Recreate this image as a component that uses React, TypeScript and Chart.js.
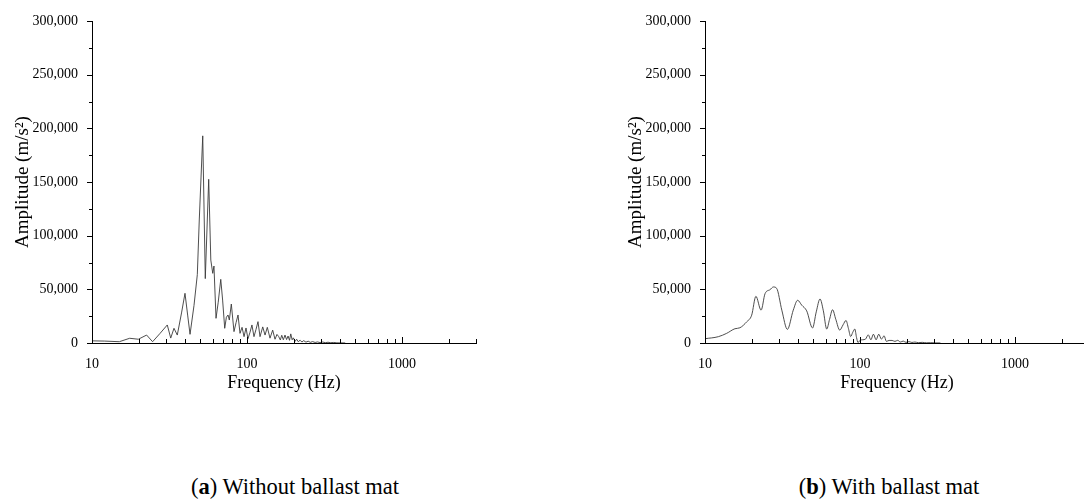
import React, { useEffect, useRef } from "react";
import { Chart, registerables } from "chart.js";

Chart.register(...registerables);

const SERIF = '"Liberation Serif", "Times New Roman", serif';

// Acceleration spectrum, track without ballast mat
const freqA = [
  10, 12, 15, 17.5, 19.9, 22.5, 24.6, 27.5, 30.6, 32.2, 33.8, 35.5, 37.8, 39.8, 41.4,
  42.9, 45.5, 47.8, 49.2, 51.8, 53.8, 56.6, 58.4, 60.1, 61.2, 63.1, 65.2, 67.7, 69.6, 71.8,
  73.6, 75.4, 76.9, 79.2, 82.4, 85, 87.5, 90.1, 92.9, 95.7, 98.5, 101.4, 104.3, 107.6, 110.9,
  114.2, 117.7, 121.3, 126.3, 130.7, 135.2, 140.7, 146.4, 151.6, 156, 160.2, 164, 167.5, 171.5, 175.8,
  180, 184, 188, 191.5, 195.5, 199, 204, 209, 214, 220, 226, 232, 240, 248, 256,
  265, 275, 285, 296, 308, 320, 333, 347, 362, 380, 400, 430,
];
const ampA = [
  2000, 1800, 1200, 4400, 3500, 7400, 1200, 9000, 16800, 4600, 13700, 7400, 28000, 46300, 26000,
  8100, 35000, 63700, 114600, 193000, 60000, 152500, 77300, 64900, 71700, 23000, 38000, 59300, 40000, 13700,
  24000, 26100, 21400, 36300, 10600, 19000, 26100, 9000, 14600, 5900, 14000, 4000, 9500, 16800, 5900,
  12500, 19900, 5900, 15000, 7400, 14600, 4500, 12000, 3500, 8000, 5900, 2800, 7200, 3000, 7400,
  3200, 6500, 2500, 8500, 3000, 4800, 1500, 3500, 1200, 2600, 900, 2200, 800, 1700, 600,
  1300, 500, 1000, 400, 900, 300, 700, 250, 500, 150, 100, 50,
];

// Acceleration spectrum, track with ballast mat
const freqB = [
  10, 12.2, 13.8, 15.6, 16.8, 18.6, 20, 21.3, 23, 24.4, 26.3, 27.6, 29, 31.3, 34,
  37.1, 39.6, 42.1, 45.3, 49.4, 52.2, 55.2, 58, 61, 63.6, 66.5, 69.8, 74, 77.8, 81.2,
  84.2, 87, 89.8, 92.5, 95, 97, 100, 104, 108.5, 113, 117.5, 122, 127, 132, 137.5,
  143, 148, 154, 161, 168, 175, 182, 190, 198, 207, 216, 226, 238, 252, 268,
  285, 305, 330,
];
const ampB = [
  4000, 5900, 9000, 13300, 14200, 19800, 25900, 43500, 30600, 46000, 49700, 52200, 50900, 30600, 12700,
  30600, 39800, 35200, 29900, 14000, 29000, 41000, 30000, 13000, 22000, 31000, 22000, 12000, 17000, 21000,
  13500, 6000, 10000, 13000, 5000, 500, 2500, 3000, 3600, 7600, 3000, 8200, 3000, 8200, 3600,
  6700, 1500, 2400, 2400, 1500, 2500, 900, 1800, 600, 1300, 500, 900, 300, 600, 200,
  300, 100, 50,
];

// Axis ticks
const xTickValues = [
  10, 20, 30, 40, 50, 60, 70, 80, 90,
  100, 200, 300, 400, 500, 600, 700, 800, 900,
  1000, 2000, 3000,
];
const xLabeledTicks = [10, 100, 1000];
const yTickValues = [
  0, 25000, 50000, 75000, 100000, 125000, 150000, 175000, 200000, 225000, 250000, 275000, 300000,
];
const yLabelStep = 50000;

const X_MIN = 10;
const X_MAX = 3000;
const Y_MIN = 0;
const Y_MAX = 300000;

const formatThousands = (v: number) =>
  String(Math.round(v)).replace(/\B(?=(\d{3})+(?!\d))/g, ",");

// Short tick marks: inward on the frequency axis, outward on the amplitude axis
const tickMarks = {
  id: "tickMarks",
  afterDatasetsDraw(chart: any) {
    const { ctx } = chart;
    const xs = chart.scales.x;
    const ys = chart.scales.y;
    ctx.save();
    ctx.strokeStyle = "#000";
    ctx.lineWidth = 1;
    ctx.beginPath();
    for (const v of xTickValues) {
      const px = Math.round(xs.getPixelForValue(v)) + 0.5;
      const len = xLabeledTicks.includes(v) ? 6 : 4;
      ctx.moveTo(px, xs.top);
      ctx.lineTo(px, xs.top - len);
    }
    for (const v of yTickValues) {
      const py = Math.round(ys.getPixelForValue(v)) + 0.5;
      const len = v % yLabelStep === 0 ? 5 : 3;
      ctx.moveTo(ys.right, py);
      ctx.lineTo(ys.right - len, py);
    }
    ctx.stroke();
    ctx.restore();
  },
};

function makeConfig(freq: number[], amp: number[], smooth: boolean): any {
  return {
    type: "line",
    data: {
      datasets: [
        {
          data: freq.map((f, i) => ({ x: f, y: amp[i] })),
          borderColor: "#3a3a3a",
          borderWidth: 0.9,
          pointRadius: 0,
          fill: false,
          tension: smooth ? 0.4 : 0,
          cubicInterpolationMode: smooth ? "monotone" : "default",
        },
      ],
    },
    options: {
      responsive: false,
      animation: false,
      events: [],
      layout: { padding: { left: 0, right: 64, top: 21, bottom: 0 } },
      plugins: { legend: { display: false }, tooltip: { enabled: false } },
      scales: {
        x: {
          type: "logarithmic",
          min: X_MIN,
          max: X_MAX,
          afterBuildTicks: (s: any) => {
            s.ticks = xTickValues.map((v) => ({ value: v }));
          },
          afterFit: (s: any) => {
            s.height = 51;
          },
          grid: { display: false },
          border: { display: true, color: "#000", width: 1 },
          ticks: {
            autoSkip: false,
            maxRotation: 0,
            padding: 5,
            color: "#000",
            font: { family: SERIF, size: 14 },
            callback: (v: any) => (xLabeledTicks.includes(Number(v)) ? String(v) : ""),
          },
          title: {
            display: true,
            text: "Frequency (Hz)",
            color: "#000",
            font: { family: SERIF, size: 18 },
            padding: { top: 0, bottom: 0 },
          },
        },
        y: {
          type: "linear",
          min: Y_MIN,
          max: Y_MAX,
          afterBuildTicks: (s: any) => {
            s.ticks = yTickValues.map((v) => ({ value: v }));
          },
          afterFit: (s: any) => {
            s.width = 92;
          },
          grid: { display: false },
          border: { display: true, color: "#000", width: 1 },
          ticks: {
            autoSkip: false,
            padding: 6,
            color: "#000",
            font: { family: SERIF, size: 14 },
            callback: (v: any) => (Number(v) % yLabelStep === 0 ? formatThousands(Number(v)) : ""),
          },
          title: {
            display: true,
            text: "Amplitude (m/s²)",
            color: "#000",
            font: { family: SERIF, size: 19 },
            padding: { top: 12, bottom: 0 },
          },
        },
      },
    },
    plugins: [tickMarks],
  };
}

function Spectrum({ freq, amp, smooth, left }: { freq: number[]; amp: number[]; smooth: boolean; left: number }) {
  const ref = useRef<HTMLCanvasElement | null>(null);
  useEffect(() => {
    if (!ref.current) return;
    const chart = new Chart(ref.current, makeConfig(freq, amp, smooth));
    return () => chart.destroy();
  }, [freq, amp, smooth]);
  return (
    <canvas
      ref={ref}
      width={540}
      height={394}
      style={{ position: "absolute", left, top: 0, width: 540, height: 394 }}
    />
  );
}

const captionStyle: React.CSSProperties = {
  position: "absolute",
  top: 474,
  width: 400,
  textAlign: "center",
  fontFamily: SERIF,
  fontSize: 22.5,
  lineHeight: "26px",
  color: "#000",
  whiteSpace: "nowrap",
};

export default function App() {
  return (
    <div style={{ position: "fixed", inset: 0, overflow: "hidden", background: "#fff" }}>
      <Spectrum freq={freqA} amp={ampA} smooth={false} left={0} />
      <Spectrum freq={freqB} amp={ampB} smooth={true} left={613} />
      <div style={{ ...captionStyle, left: 295 - 200 }}>
        (<b>a</b>) Without ballast mat
      </div>
      <div style={{ ...captionStyle, left: 889 - 200 }}>
        (<b>b</b>) With ballast mat
      </div>
    </div>
  );
}
